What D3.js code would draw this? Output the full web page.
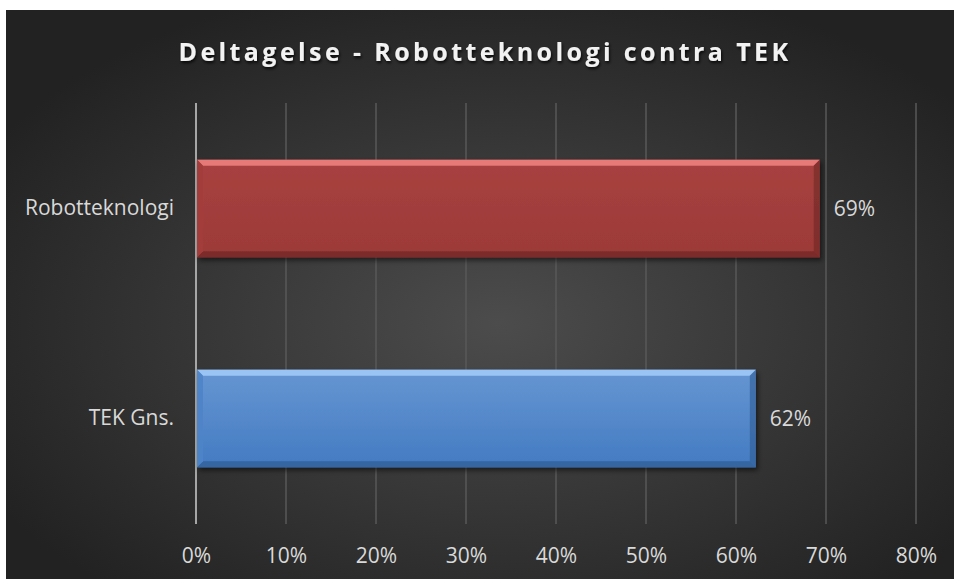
<!DOCTYPE html>
<html>
  <head>
    <meta charset="UTF-8" />
    <script src="https://d3js.org/d3.v7.min.js"></script>
    <style>
      body { margin: 0; background: #fff; }
      text { font-family: "Open Sans", sans-serif; }
    </style>
  </head>
  <body>
    <svg width="954" height="579"></svg>

    <script>
      const title = "Deltagelse - Robotteknologi contra TEK";
      const categories = ["Robotteknologi", "TEK Gns."];
      const values = [0.693, 0.622];
      const valueLabels = ["69%", "62%"];
      const ticks = [0, 0.1, 0.2, 0.3, 0.4, 0.5, 0.6, 0.7, 0.8];

      const colors = [
        { base: "#a33d3b", light: "#e57a78", dark: "#6e2725", top: "#a84240", bottom: "#9c3a38" },
        { base: "#4f84c8", light: "#9ac4f4", dark: "#2f5c94", top: "#6696d2", bottom: "#437bc2" }
      ];

      const svg = d3.select("svg");
      const defs = svg.append("defs");

      // background, lighter in the middle
      const bg = defs.append("radialGradient").attr("id", "bg")
        .attr("cx", "52%").attr("cy", "55%").attr("r", "62%");
      bg.append("stop").attr("offset", "0%").attr("stop-color", "#4c4c4c");
      bg.append("stop").attr("offset", "100%").attr("stop-color", "#222");

      svg.append("rect")
        .attr("x", 6).attr("y", 10).attr("width", 948).attr("height", 569)
        .attr("fill", "url(#bg)");

      const shadow = defs.append("filter").attr("id", "shadow")
        .attr("x", "-10%").attr("y", "-20%").attr("width", "130%").attr("height", "160%");
      shadow.append("feDropShadow").attr("dx", 2).attr("dy", 3)
        .attr("stdDeviation", 2.5).attr("flood-color", "#000").attr("flood-opacity", 0.55);

      const tshadow = defs.append("filter").attr("id", "tshadow");
      tshadow.append("feDropShadow").attr("dx", 1).attr("dy", 2)
        .attr("stdDeviation", 1.5).attr("flood-color", "#000").attr("flood-opacity", 0.8);

      colors.forEach(function (c, i) {
        const g = defs.append("linearGradient").attr("id", "bar" + i)
          .attr("x1", 0).attr("y1", 0).attr("x2", 0).attr("y2", 1);
        g.append("stop").attr("offset", "0%").attr("stop-color", c.top);
        g.append("stop").attr("offset", "100%").attr("stop-color", c.bottom);
      });

      const x = d3.scaleLinear().domain([0, 0.8]).range([196, 916]);
      const y = d3.scaleBand().domain(categories).range([103, 524])
        .paddingInner(0.535).paddingOuter(0.27);

      // gridlines
      svg.append("g")
        .selectAll("line")
        .data(ticks)
        .join("line")
        .attr("x1", d => x(d)).attr("x2", d => x(d))
        .attr("y1", 103).attr("y2", 524)
        .attr("stroke", d => d === 0 ? "#a6a6a6" : "#595959")
        .attr("stroke-width", d => d === 0 ? 2 : 1.5);

      // x axis labels
      const xAxis = d3.axisBottom(x).tickValues(ticks).tickFormat(d3.format(".0%")).tickSize(0).tickPadding(0);
      const xg = svg.append("g").attr("transform", "translate(0,563)").call(xAxis);
      xg.select(".domain").remove();
      xg.selectAll("text").attr("fill", "#d9d9d9").attr("font-size", 21).attr("dy", 0);

      // y axis labels
      const yAxis = d3.axisLeft(y).tickSize(0).tickPadding(22);
      const yg = svg.append("g").attr("transform", "translate(196,0)").call(yAxis);
      yg.select(".domain").remove();
      yg.selectAll("text").attr("fill", "#d9d9d9").attr("font-size", 21);

      // bars with bevel
      const bw = 6;
      const bars = svg.append("g").selectAll("g")
        .data(categories)
        .join("g")
        .attr("filter", "url(#shadow)");

      bars.each(function (cat, i) {
        const g = d3.select(this);
        const x0 = x(0) + 1, x1 = x(values[i]);
        const y0 = y(cat), y1 = y(cat) + y.bandwidth();
        const c = colors[i];
        g.append("rect").attr("x", x0).attr("y", y0)
          .attr("width", x1 - x0).attr("height", y1 - y0)
          .attr("fill", "url(#bar" + i + ")");
        // top bevel
        g.append("polygon")
          .attr("points", [[x0, y0], [x1, y0], [x1 - bw, y0 + bw], [x0 + bw, y0 + bw]].join(" "))
          .attr("fill", c.light);
        // bottom bevel
        g.append("polygon")
          .attr("points", [[x0, y1], [x1, y1], [x1 - bw, y1 - bw], [x0 + bw, y1 - bw]].join(" "))
          .attr("fill", c.dark).attr("opacity", 0.7);
        // left bevel
        g.append("polygon")
          .attr("points", [[x0, y0], [x0 + bw, y0 + bw], [x0 + bw, y1 - bw], [x0, y1]].join(" "))
          .attr("fill", c.base).attr("opacity", 0.9);
        // right bevel
        g.append("polygon")
          .attr("points", [[x1, y0], [x1 - bw, y0 + bw], [x1 - bw, y1 - bw], [x1, y1]].join(" "))
          .attr("fill", c.dark).attr("opacity", 0.6);
      });

      // value labels
      svg.append("g").selectAll("text")
        .data(categories)
        .join("text")
        .attr("x", (d, i) => x(values[i]) + 14)
        .attr("y", d => y(d) + y.bandwidth() / 2)
        .attr("dy", "0.35em")
        .attr("fill", "#d9d9d9")
        .attr("font-size", 21)
        .text((d, i) => valueLabels[i]);

      // title
      svg.append("text")
        .attr("x", 485).attr("y", 61)
        .attr("text-anchor", "middle")
        .attr("fill", "#f2f2f2")
        .attr("font-size", 25)
        .attr("font-weight", "bold")
        .attr("letter-spacing", 3.4)
        .attr("filter", "url(#tshadow)")
        .text(title);
    </script>
  </body>
</html>
